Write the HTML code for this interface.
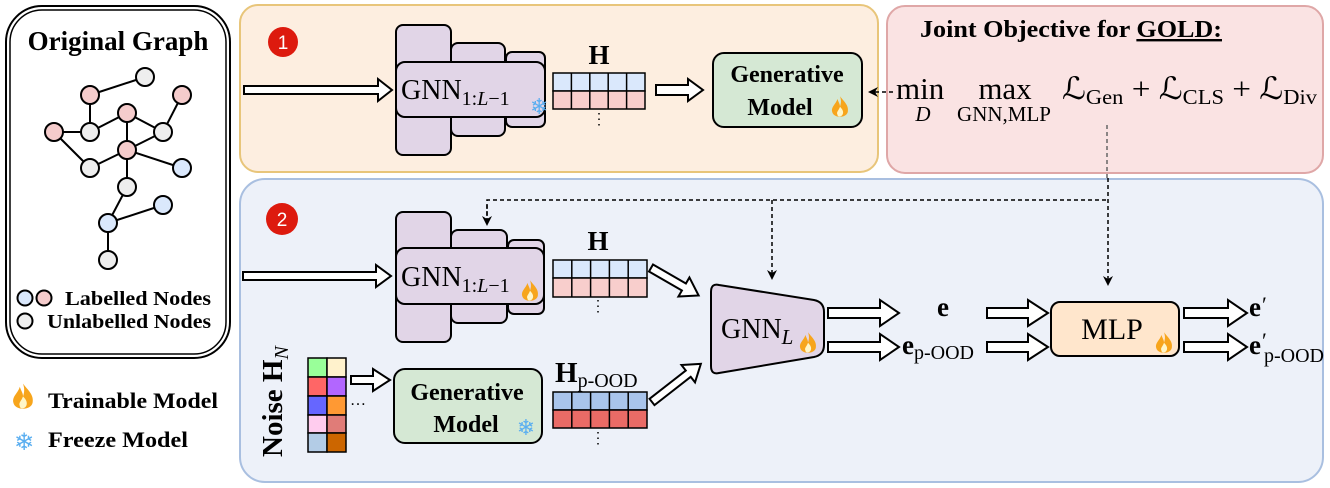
<!DOCTYPE html>
<html><head><meta charset="utf-8"><style>
html,body{margin:0;padding:0;background:#fff;}
svg{display:block;}
text{font-family:"Liberation Serif","DejaVu Serif",serif;}
.b{font-weight:bold;}
</style></head><body>
<svg width="1330" height="488" viewBox="0 0 1330 488" xmlns="http://www.w3.org/2000/svg">
<defs>
<g id="fire">
<path d="M0,-9 C3,-5 7,-2 6,3 C5,8 -5,8 -6,3 C-7,-1 -3,-3 -2,-7 C-1,-4 0,-3 0,-1 C1,-4 1,-6 0,-9Z" fill="#f7a51c"/>
<path d="M0,-1 C2,1 3,3 2,5 C1,7 -2,7 -2,5 C-3,3 -1,2 0,-1Z" fill="#fff6c8"/>
</g>
<marker id="ah" markerWidth="10" markerHeight="10" refX="8" refY="5" orient="auto" markerUnits="userSpaceOnUse">
<path d="M0,0 L10,5 L0,10 L3,5Z" fill="#000"/>
</marker>
</defs>

<!-- Left box -->
<rect x="6" y="6" width="224" height="352" rx="36" fill="#fff" stroke="#000" stroke-width="2"/>
<rect x="10" y="10" width="216" height="344" rx="32" fill="none" stroke="#000" stroke-width="1.5"/>
<text x="118" y="50" text-anchor="middle" class="b" font-size="27">Original Graph</text>
<g stroke="#000" stroke-width="2">
<line x1="90" y1="95" x2="145" y2="77"/><line x1="90" y1="95" x2="90" y2="132"/>
<line x1="90" y1="132" x2="127" y2="113"/><line x1="54" y1="132" x2="90" y2="132"/>
<line x1="54" y1="132" x2="90" y2="168"/><line x1="127" y1="113" x2="127" y2="150"/>
<line x1="127" y1="113" x2="163" y2="132"/><line x1="182" y1="95" x2="163" y2="132"/>
<line x1="163" y1="132" x2="127" y2="150"/><line x1="127" y1="150" x2="90" y2="168"/>
<line x1="127" y1="150" x2="182" y2="168"/><line x1="127" y1="150" x2="127" y2="187"/>
<line x1="127" y1="187" x2="108" y2="223"/><line x1="108" y1="223" x2="163" y2="205"/>
<line x1="108" y1="223" x2="108" y2="260"/>
</g>
<g stroke="#000" stroke-width="2">
<circle cx="145" cy="77" r="9" fill="#eeeeee"/><circle cx="90" cy="95" r="9" fill="#f5cccc"/>
<circle cx="182" cy="95" r="9" fill="#f5cccc"/><circle cx="127" cy="113" r="9" fill="#f5cccc"/>
<circle cx="54" cy="132" r="9" fill="#f5cccc"/><circle cx="90" cy="132" r="9" fill="#eeeeee"/>
<circle cx="163" cy="132" r="9" fill="#eeeeee"/><circle cx="127" cy="150" r="9" fill="#f5cccc"/>
<circle cx="90" cy="168" r="9" fill="#eeeeee"/><circle cx="182" cy="168" r="9" fill="#dae8fc"/>
<circle cx="127" cy="187" r="9" fill="#eeeeee"/><circle cx="163" cy="205" r="9" fill="#dae8fc"/>
<circle cx="108" cy="223" r="9" fill="#dae8fc"/><circle cx="108" cy="260" r="9" fill="#eeeeee"/>
<circle cx="25" cy="298" r="7.5" fill="#dae8fc"/><circle cx="44" cy="298" r="7.5" fill="#f5cccc"/>
<circle cx="25" cy="321" r="7.5" fill="#eeeeee"/>
</g>
<text x="65" y="305" class="b" font-size="20" textLength="146" lengthAdjust="spacingAndGlyphs">Labelled Nodes</text>
<text x="47" y="328" class="b" font-size="20" textLength="164" lengthAdjust="spacingAndGlyphs">Unlabelled Nodes</text>
<use href="#fire" transform="translate(23,398) scale(1.6)"/>
<text x="48" y="408" class="b" font-size="22" textLength="170" lengthAdjust="spacingAndGlyphs">Trainable Model</text>
<text x="24" y="450" text-anchor="middle" font-size="24" fill="#5aaef0" style="font-family:'DejaVu Sans',sans-serif">❄</text>
<text x="48" y="447" class="b" font-size="22" textLength="140" lengthAdjust="spacingAndGlyphs">Freeze Model</text>

<!-- Panel 1 -->
<rect x="240" y="5" width="638" height="167" rx="18" fill="#fdeee0" stroke="#e8c57a" stroke-width="2"/>
<circle cx="283" cy="42" r="15" fill="#dd1a0e"/>
<text x="283" y="49" text-anchor="middle" fill="#fff" font-size="19" style="font-family:'Liberation Sans',sans-serif">1</text>
<polygon points="244,86 378,86 378,79 392,90 378,101 378,94 244,94" fill="#fff" stroke="#000" stroke-width="2"/>
<g fill="#e1d5e7" stroke="#000" stroke-width="2">
<rect x="396" y="25" width="55" height="130" rx="7"/>
<rect x="451" y="43" width="54" height="93" rx="7"/>
<rect x="506" y="52" width="39" height="75" rx="6"/>
<rect x="396" y="62" width="149" height="55" rx="9"/>
</g>
<text x="401" y="99" font-size="28">GNN<tspan font-size="20" dy="6">1:<tspan font-style="italic">L</tspan>−1</tspan></text>
<text x="530" y="114" font-size="22" fill="#5aaef0" style="font-family:'DejaVu Sans',sans-serif">❄</text>
<text x="599" y="64" text-anchor="middle" class="b" font-size="27">H</text>
<g stroke="#000" stroke-width="1.5">
<rect x="553" y="73" width="92" height="18" fill="#dae8fc"/><rect x="553" y="91" width="92" height="18" fill="#f8cecc"/>
<line x1="571.4" y1="73" x2="571.4" y2="109"/><line x1="589.8" y1="73" x2="589.8" y2="109"/>
<line x1="608.2" y1="73" x2="608.2" y2="109"/><line x1="626.6" y1="73" x2="626.6" y2="109"/>
</g>
<line x1="599" y1="113" x2="599" y2="127" stroke="#000" stroke-width="1.5" stroke-dasharray="1.5,4"/>
<polygon points="656,85 688,85 688,79 703,90 688,101 688,95 656,95" fill="#fff" stroke="#000" stroke-width="2"/>
<rect x="713" y="53" width="149" height="74" rx="11" fill="#d5e8d4" stroke="#000" stroke-width="2"/>
<text x="787" y="82" text-anchor="middle" class="b" font-size="24">Generative</text>
<text x="780" y="115" text-anchor="middle" class="b" font-size="24">Model</text>
<use href="#fire" transform="translate(840,108) scale(1.3)"/>

<!-- Panel 3 -->
<rect x="887" y="6" width="436" height="167" rx="18" fill="#fae3e3" stroke="#dfa7a7" stroke-width="2"/>
<text x="920" y="37" class="b" font-size="24" textLength="302" lengthAdjust="spacingAndGlyphs">Joint Objective for <tspan text-decoration="underline">GOLD:</tspan></text>
<line x1="893" y1="92" x2="870" y2="92" stroke="#000" stroke-width="1.5" stroke-dasharray="4,3" marker-end="url(#ah)"/>
<text x="896" y="99" font-size="31">min</text>
<text x="923" y="121" font-size="21" font-style="italic" text-anchor="middle">D</text>
<text x="1005" y="99" font-size="31" text-anchor="middle">max</text>
<text x="1004" y="121" font-size="21" text-anchor="middle">GNN,MLP</text>
<text x="1062" y="99" font-size="31" textLength="255" lengthAdjust="spacingAndGlyphs">ℒ<tspan font-size="21" dy="5">Gen</tspan><tspan dy="-5"> + ℒ</tspan><tspan font-size="21" dy="5">CLS</tspan><tspan dy="-5"> + ℒ</tspan><tspan font-size="21" dy="5">Div</tspan></text>
<line x1="1107" y1="125" x2="1107" y2="178" stroke="#666" stroke-width="1.5" stroke-dasharray="4,3"/>

<!-- Panel 2 -->
<rect x="240" y="179" width="1083" height="303" rx="25" fill="#edf1f9" stroke="#a9bfe0" stroke-width="2"/>
<circle cx="282" cy="219" r="16" fill="#dd1a0e"/>
<text x="282" y="226" text-anchor="middle" fill="#fff" font-size="19" style="font-family:'Liberation Sans',sans-serif">2</text>
<g stroke="#000" stroke-width="1.5" stroke-dasharray="4,3" fill="none">
<polyline points="487,222 487,200 1109,200"/>
<line x1="487" y1="205" x2="487" y2="224" marker-end="url(#ah)"/>
<line x1="772" y1="200" x2="772" y2="278" marker-end="url(#ah)"/>
<line x1="1108" y1="178" x2="1108" y2="284" marker-end="url(#ah)"/>
</g>
<polygon points="243,272 376,272 376,265 391,276 376,287 376,280 243,280" fill="#fff" stroke="#000" stroke-width="2"/>
<g fill="#e1d5e7" stroke="#000" stroke-width="2">
<rect x="396" y="212" width="55" height="130" rx="7"/>
<rect x="451" y="230" width="56" height="93" rx="7"/>
<rect x="508" y="240" width="36" height="74" rx="6"/>
<rect x="396" y="248" width="148" height="56" rx="9"/>
</g>
<text x="401" y="286" font-size="28">GNN<tspan font-size="20" dy="6">1:<tspan font-style="italic">L</tspan>−1</tspan></text>
<use href="#fire" transform="translate(530,292) scale(1.3)"/>
<text x="598" y="250" text-anchor="middle" class="b" font-size="27">H</text>
<g stroke="#000" stroke-width="1.5">
<rect x="553" y="260" width="94" height="18" fill="#dae8fc"/><rect x="553" y="278" width="94" height="19" fill="#f8cecc"/>
<line x1="571.8" y1="260" x2="571.8" y2="297"/><line x1="590.6" y1="260" x2="590.6" y2="297"/>
<line x1="609.4" y1="260" x2="609.4" y2="297"/><line x1="628.2" y1="260" x2="628.2" y2="297"/>
</g>
<line x1="598" y1="300" x2="598" y2="314" stroke="#000" stroke-width="1.5" stroke-dasharray="1.5,4"/>
<polygon points="0,-4 38,-4 38,-11 55,0 38,11 38,4 0,4" fill="#fff" stroke="#000" stroke-width="2" transform="translate(651,268) rotate(30)"/>
<polygon points="0,-4 46,-4 46,-11 62,0 46,11 46,4 0,4" fill="#fff" stroke="#000" stroke-width="2" transform="translate(652,402) rotate(-38)"/>

<text transform="translate(282,457) rotate(-90)" class="b" font-size="29">Noise H<tspan font-style="italic" font-weight="normal" font-size="20" dy="6">N</tspan></text>
<g stroke="#000" stroke-width="1.5">
<rect x="308" y="358" width="19" height="19" fill="#99ff99"/><rect x="327" y="358" width="19" height="19" fill="#fff2cc"/>
<rect x="308" y="377" width="19" height="19" fill="#ff6666"/><rect x="327" y="377" width="19" height="19" fill="#b266ff"/>
<rect x="308" y="396" width="19" height="19" fill="#6666ff"/><rect x="327" y="396" width="19" height="19" fill="#ff9933"/>
<rect x="308" y="415" width="19" height="18" fill="#ffccee"/><rect x="327" y="415" width="19" height="18" fill="#e07c78"/>
<rect x="308" y="433" width="19" height="19" fill="#b3cce6"/><rect x="327" y="433" width="19" height="19" fill="#cc6600"/>
</g>
<text x="350" y="405" font-size="16">…</text>
<polygon points="351,376 373,376 373,369 390,380 373,391 373,384 351,384" fill="#fff" stroke="#000" stroke-width="2"/>
<rect x="394" y="369" width="148" height="74" rx="11" fill="#d5e8d4" stroke="#000" stroke-width="2"/>
<text x="467" y="400" text-anchor="middle" class="b" font-size="24">Generative</text>
<text x="466" y="432" text-anchor="middle" class="b" font-size="24">Model</text>
<text x="526" y="435" text-anchor="middle" font-size="22" fill="#5aaef0" style="font-family:'DejaVu Sans',sans-serif">❄</text>
<text x="555" y="382" class="b" font-size="29">H<tspan font-weight="normal" font-size="20" dy="5">p-OOD</tspan></text>
<g stroke="#000" stroke-width="1.5">
<rect x="553" y="392" width="94" height="18" fill="#a9c4eb"/><rect x="553" y="410" width="94" height="18" fill="#ea6b66"/>
<line x1="571.8" y1="392" x2="571.8" y2="428"/><line x1="590.6" y1="392" x2="590.6" y2="428"/>
<line x1="609.4" y1="392" x2="609.4" y2="428"/><line x1="628.2" y1="392" x2="628.2" y2="428"/>
</g>
<line x1="598" y1="432" x2="598" y2="446" stroke="#000" stroke-width="1.5" stroke-dasharray="1.5,4"/>

<path d="M711,292 Q711,283 719,285 L814,300 Q824,302 824,312 L824,345 Q824,355 814,357 L719,373 Q711,375 711,366 Z" fill="#e1d5e7" stroke="#000" stroke-width="2"/>
<text x="721" y="338" font-size="28">GNN<tspan font-style="italic" font-size="21" dy="6">L</tspan></text>
<use href="#fire" transform="translate(808,344) scale(1.3)"/>

<polygon points="828,308 880,308 880,300 899,313 880,326 880,318 828,318" fill="#fff" stroke="#000" stroke-width="2"/>
<polygon points="828,342 880,342 880,334 899,347 880,360 880,352 828,352" fill="#fff" stroke="#000" stroke-width="2"/>
<text x="943" y="316" text-anchor="middle" class="b" font-size="27">e</text>
<text x="902" y="354" class="b" font-size="27">e<tspan font-weight="normal" font-size="20" dy="5">p-OOD</tspan></text>
<polygon points="987,308 1028,308 1028,300 1048,313 1028,326 1028,318 987,318" fill="#fff" stroke="#000" stroke-width="2"/>
<polygon points="987,342 1028,342 1028,334 1048,347 1028,360 1028,352 987,352" fill="#fff" stroke="#000" stroke-width="2"/>
<rect x="1051" y="302" width="128" height="54" rx="9" fill="#ffe6cc" stroke="#000" stroke-width="2"/>
<text x="1112" y="339" text-anchor="middle" font-size="30">MLP</text>
<use href="#fire" transform="translate(1164,344) scale(1.3)"/>
<polygon points="1184,308 1228,308 1228,300 1247,313 1228,326 1228,318 1184,318" fill="#fff" stroke="#000" stroke-width="2"/>
<polygon points="1184,342 1228,342 1228,334 1247,347 1228,360 1228,352 1184,352" fill="#fff" stroke="#000" stroke-width="2"/>
<text x="1249" y="316" class="b" font-size="27">e</text>
<text x="1262" y="312" font-size="22">′</text>
<text x="1249" y="354" class="b" font-size="27">e</text>
<text x="1262" y="348" font-size="22">′</text>
<text x="1264" y="362" font-size="20">p-OOD</text>
</svg>
</body></html>
